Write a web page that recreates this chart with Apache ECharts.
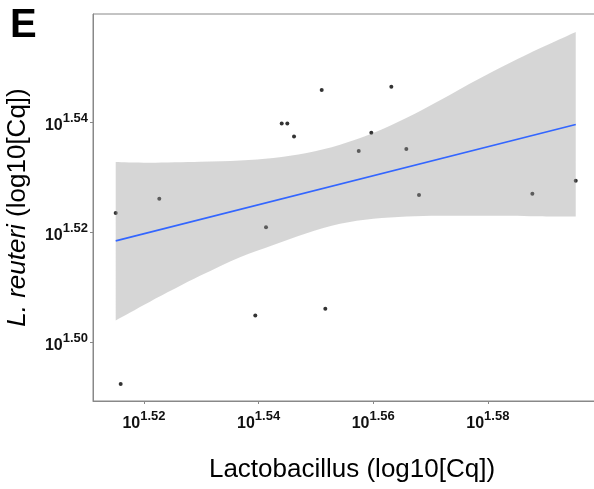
<!DOCTYPE html>
<html>
<head>
<meta charset="utf-8">
<script src="https://cdn.jsdelivr.net/npm/echarts@6/dist/echarts.min.js"></script>
<style>
  html, body { margin: 0; padding: 0; background: #fff; }
  #chart { width: 594px; height: 489px; }
</style>
</head>
<body>
<div id="chart"></div>
<script>
// points: Lactobacillus (x) vs L. reuteri (y), log10 values
var lactoX = [1.51506, 1.52267, 1.54129, 1.54403, 1.54501, 1.54618, 1.55101, 1.56316, 1.55967,
              1.55747, 1.56578, 1.56799, 1.58777, 1.59534, 1.51593, 1.53942, 1.55164];
var reuteriY = [1.52353, 1.52613, 1.52098, 1.53982, 1.53982, 1.53745, 1.54589, 1.54649, 1.53813,
                1.53480, 1.53516, 1.52680, 1.52704, 1.52940, 1.49249, 1.50491, 1.50618];

// fitted line ends
var fitX = [1.51506, 1.59534];
var fitY = [1.51849, 1.53964];

// confidence band
var bandX     = [1.51506, 1.52105, 1.52977, 1.53675, 1.54257, 1.54839, 1.55421, 1.56002, 1.56585, 1.57166, 1.57864, 1.58736, 1.59534];
var bandUpper = [1.53280, 1.53267, 1.53285, 1.53309, 1.53353, 1.53444, 1.53595, 1.53807, 1.54085, 1.54404, 1.54804, 1.55262, 1.55644];
var bandLower = [1.50404, 1.50745, 1.51213, 1.51553, 1.51776, 1.51989, 1.52158, 1.52249, 1.52291, 1.52305, 1.52304, 1.52298, 1.52291];

var xTicks = [1.52, 1.54, 1.56, 1.58];
var yTicks = [1.50, 1.52, 1.54];

var chart = echarts.init(document.getElementById('chart'));

var pts = [];
for (var i = 0; i < lactoX.length; i++) pts.push([lactoX[i], reuteriY[i]]);
var fit = [];
for (var i = 0; i < fitX.length; i++) fit.push([fitX[i], fitY[i]]);

// smooth curve through pixel points (catmull-rom as cubic bezier)
function curveThrough(p) {
    var d = '';
    for (var i = 0; i < p.length - 1; i++) {
        var p0 = p[i - 1] || p[i], p1 = p[i], p2 = p[i + 1], p3 = p[i + 2] || p[i + 1];
        var c1x = p1[0] + (p2[0] - p0[0]) / 6, c1y = p1[1] + (p2[1] - p0[1]) / 6;
        var c2x = p2[0] - (p3[0] - p1[0]) / 6, c2y = p2[1] - (p3[1] - p1[1]) / 6;
        d += ' C' + c1x + ' ' + c1y + ' ' + c2x + ' ' + c2y + ' ' + p2[0] + ' ' + p2[1];
    }
    return d;
}

var labelRich = {
    b: { fontSize: 16, fontWeight: 'bold', color: '#111', fontFamily: '"Liberation Sans", Arial', lineHeight: 22, verticalAlign: 'bottom' },
    s: { fontSize: 13, fontWeight: 'bold', color: '#111', fontFamily: '"Liberation Sans", Arial', lineHeight: 13, verticalAlign: 'top' }
};
function powLabel(v) {
    return '{b|10}{s|' + v.toFixed(2) + '}';
}

var option = {
    animation: false,
    textStyle: { fontFamily: '"Liberation Sans", Arial' },
    graphic: [{
        type: 'text', left: 10, top: 6,
        style: { text: 'E', font: 'bold 40px "Liberation Sans", Arial', fill: '#000' }
    }],
    grid: { left: 93, top: 14, right: -5, bottom: 88, outerBoundsMode: 'none', show: true, borderColor: '#888', borderWidth: 1 },
    xAxis: {
        type: 'value', min: 1.5111, max: 1.5994,
        splitLine: { show: false },
        axisLine: { show: true, lineStyle: { color: '#888' } },
        axisTick: { show: true, length: 3, lineStyle: { color: '#888' }, customValues: xTicks },
        axisLabel: { margin: 9, formatter: powLabel, rich: labelRich, customValues: xTicks },
        name: 'Lactobacillus (log10[Cq])',
        nameLocation: 'middle', nameGap: 56,
        nameTextStyle: { fontSize: 26, color: '#000', padding: [0, 0, 0, 12] }
    },
    yAxis: {
        type: 'value', min: 1.4894, max: 1.5597,
        splitLine: { show: false },
        axisLine: { show: true, lineStyle: { color: '#888' } },
        axisTick: { show: true, length: 3, lineStyle: { color: '#888' }, customValues: yTicks },
        axisLabel: { margin: 5, formatter: powLabel, rich: labelRich, customValues: yTicks },
        name: '{i|L. reuteri} (log10[Cq])',
        nameLocation: 'middle', nameGap: 62, nameRotate: 90,
        nameTextStyle: { fontSize: 26, color: '#000', rich: { i: { fontSize: 26, fontStyle: 'italic', color: '#000' } } }
    },
    series: [
        {
            type: 'scatter', data: pts, symbolSize: 4,
            itemStyle: { color: '#000' }, z: 2
        },
        {
            type: 'custom', z: 3, clip: true,
            data: [[bandX[0], bandUpper[0]]],
            encode: { x: 0, y: 1 },
            renderItem: function (params, api) {
                var up = [], low = [];
                for (var i = 0; i < bandX.length; i++) up.push(api.coord([bandX[i], bandUpper[i]]));
                for (var i = bandX.length - 1; i >= 0; i--) low.push(api.coord([bandX[i], bandLower[i]]));
                var d = 'M' + up[0][0] + ' ' + up[0][1] + curveThrough(up) +
                        ' L' + low[0][0] + ' ' + low[0][1] + curveThrough(low) + ' Z';
                return { type: 'path', shape: { pathData: d }, style: { fill: 'rgba(153,153,153,0.4)' } };
            }
        },
        {
            type: 'line', data: fit, symbol: 'none', z: 4,
            lineStyle: { color: '#3366FF', width: 1.6 }
        }
    ]
};
chart.setOption(option);
</script>
</body>
</html>
